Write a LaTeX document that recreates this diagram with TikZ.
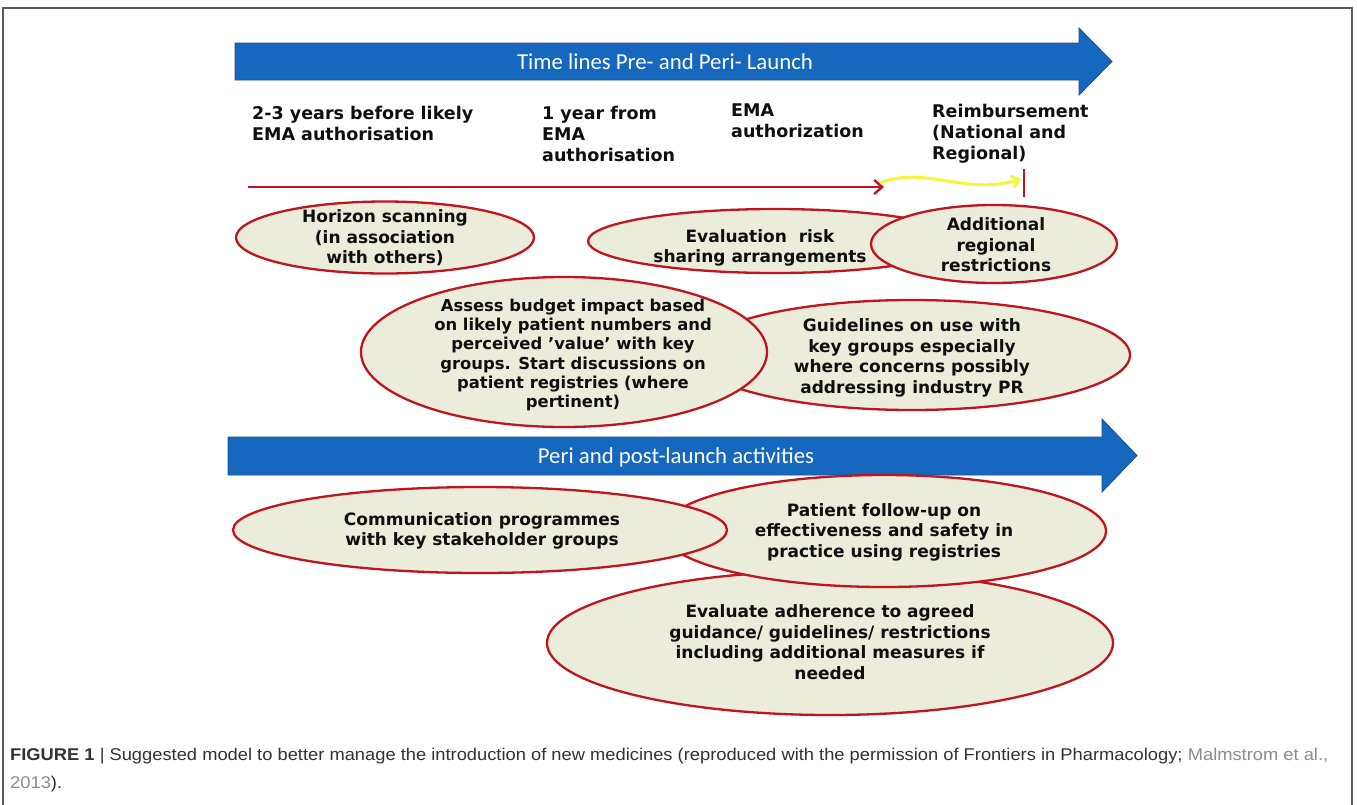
\documentclass[tikz,border=0pt]{standalone}
\usepackage{fontspec}
\usepackage{graphicx}
\setmainfont{DejaVu Sans}
\newfontfamily\calfont{Carlito}
\newfontfamily\capfont{Liberation Sans}
\usetikzlibrary{shapes.geometric,arrows.meta}
\definecolor{arrowblue}{RGB}{21,104,190}
\definecolor{arrowedge}{RGB}{30,80,150}
\definecolor{ellfill}{RGB}{236,236,218}
\definecolor{elldraw}{RGB}{192,20,30}
\definecolor{redline}{RGB}{200,16,30}
\definecolor{yel}{RGB}{245,245,60}
\definecolor{captext}{RGB}{50,50,50}
\definecolor{caplink}{RGB}{140,140,140}
\definecolor{txt}{RGB}{15,15,15}
\definecolor{framegray}{RGB}{90,90,90}
\tikzset{
  ell/.style={ellipse, draw=elldraw, line width=2.3pt, fill=ellfill, inner sep=0pt},
  etext/.style={align=center, font=\bfseries\fontsize{17}{20.5}\selectfont, text=txt, inner sep=0pt},
  etextsmall/.style={align=center, font=\bfseries\fontsize{16.4}{19.2}\selectfont, text=txt, inner sep=0pt},
  lab/.style={align=left, anchor=north west, font=\bfseries\fontsize{17.5}{21}\selectfont, text=txt, inner sep=0pt},
  bigarrow/.style={fill=arrowblue, draw=arrowedge, line width=0.8pt},
  arrtext/.style={text=white, inner sep=0pt, font=\calfont\fontsize{22.8}{26}\selectfont},
  redarrow/.style={draw=redline, line width=2.4pt, -{Straight Barb[length=8pt,width=14pt]}},
  yelarrow/.style={draw=yel, line width=3pt, -{Straight Barb[length=7pt,width=12pt]}},
  redbar/.style={draw=redline, line width=2.4pt}
}
\begin{document}
\begin{tikzpicture}[x=1pt,y=-1pt]
\useasboundingbox (0,0) rectangle (1357,804);
\fill[white] (0,0) rectangle (1357,804);
% frame
\draw[framegray, line width=1.4pt] (3,820) -- (3,8) -- (1352,8) -- (1352,820);

% top blue arrow
\path[bigarrow] (235,43) -- (1079,43) -- (1079,28) -- (1112,61.5) -- (1079,95) -- (1079,80) -- (235,80) -- cycle;
\node[arrtext] (toptext) at (665,62) {Time lines Pre- and Peri- Launch};

% time labels
\node[lab] (l1) at (252,106) {2-3 years before likely\\EMA authorisation};
\node[lab] (l2) at (542,106) {1 year from\\EMA\\authorisation};
\node[lab] (l3) at (731,104) {EMA\\authorization};
\node[lab] (l4) at (932,104) {Reimbursement\\(National and\\Regional)};

% timeline arrows
\coordinate (rl0) at (248,187);
\coordinate (rl1) at (884,187);
\draw[redarrow] (rl0) -- (rl1);
\coordinate (yl0) at (880,183);
\coordinate (yl1) at (1021,179);
\draw[yelarrow] (yl0) .. controls (925,165) and (965,196) .. (yl1);
\coordinate (bar0) at (1024,169);
\coordinate (bar1) at (1024,197);
\draw[redbar] (bar0) -- (bar1);

% upper ellipses
\node[ell, minimum width=298pt, minimum height=72pt] (hor) at (385,237.5) {};
\node[etext] (hortxt) at (385,238) {Horizon scanning\\(in association\\with others)};
\node[ell, minimum width=374pt, minimum height=64pt] (evr) at (775,241) {};
\node[etext] (evrtxt) at (760,248) {Evaluation\ \ risk\\sharing arrangements};
\node[ell, minimum width=246pt, minimum height=78pt] (add) at (994,244) {};
\node[etext] (addtxt) at (996,245) {Additional\\regional\\restrictions};
\node[ell, minimum width=436pt, minimum height=110pt] (gui) at (912,355) {};
\node[etext] (guitxt) at (912,358) {Guidelines on use with\\key groups especially\\where concerns possibly\\addressing industry PR};
\node[ell, minimum width=406pt, minimum height=150pt] (ass) at (564,352) {};
\node[etextsmall] (asstxt) at (573,355) {Assess budget impact based\\on likely patient numbers and\\perceived 'value' with key\\groups. Start discussions on\\patient registries (where\\pertinent)};

% bottom blue arrow
\path[bigarrow] (228,437) -- (1102,437) -- (1102,419) -- (1137,455.5) -- (1102,492) -- (1102,475) -- (228,475) -- cycle;
\node[arrtext] (bottext) at (676,457) {Peri and post-launch activities};

% lower ellipses
\node[ell, minimum width=566pt, minimum height=144pt] (adh) at (830,643) {};
\node[etext] (adhtxt) at (830,642) {Evaluate adherence to agreed\\guidance/ guidelines/ restrictions\\including additional measures if\\needed};
\node[ell, minimum width=444pt, minimum height=112pt] (pat) at (884,531) {};
\node[etext] (pattxt) at (884,532) {Patient follow-up on\\effectiveness and safety in\\practice using registries};
\node[ell, minimum width=494pt, minimum height=86pt] (com) at (480,530) {};
\node[etext] (comtxt) at (482,531) {Communication programmes\\with key stakeholder groups};

% caption
\node[anchor=base west, inner sep=0pt, text=captext] (cap) at (10,760) {\resizebox{1318pt}{\height}{\capfont\fontsize{17}{28}\selectfont\begin{tabular}[t]{@{}l@{}}\textbf{FIGURE 1} | Suggested model to better manage the introduction of new medicines (reproduced with the permission of Frontiers in Pharmacology; \textcolor{caplink}{Malmstrom et al.,}\\\textcolor{caplink}{2013}).\end{tabular}}};
\end{tikzpicture}
\end{document}
